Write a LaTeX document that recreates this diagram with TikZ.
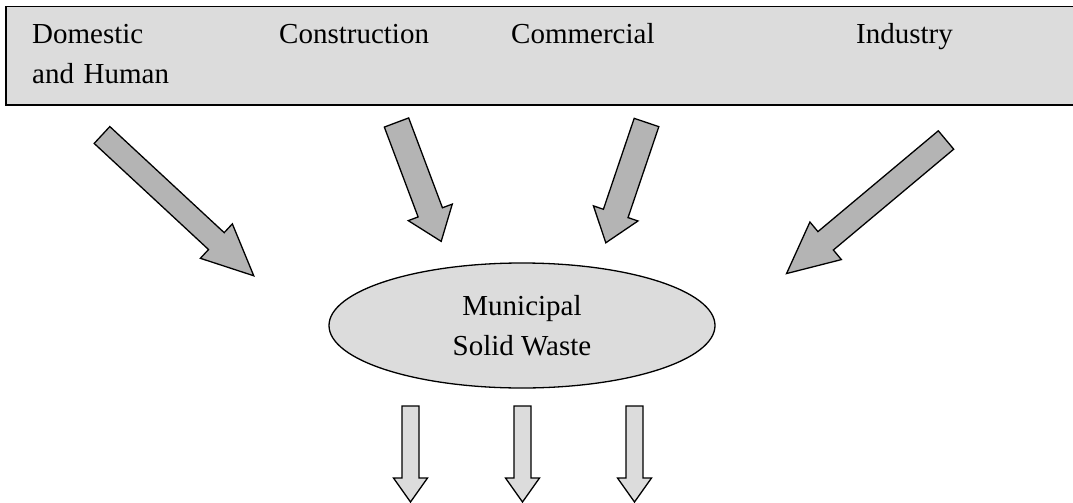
\documentclass[tikz,border=0pt]{standalone}
\usepackage{fontspec}
\setmainfont{Liberation Serif}
\usetikzlibrary{shapes.geometric}
\definecolor{panelgray}{RGB}{220,220,220}
\definecolor{flowgray}{RGB}{180,180,180}
\tikzset{
    x=1pt, y=-1pt, % one unit is one pixel of the reference, y downwards
    every node/.style={font=\fontsize{29}{40}\selectfont, inner sep=0pt},
    source/.style={anchor=base west, align=left}, % the labels in the top panel
    waste/.style={ellipse, draw, line width=1.3pt, fill=panelgray, minimum width=386, minimum height=125, align=center},
    pics/fatarrow/.style n args={4}{code={ % length, half shaft, half head, head length
        \draw[pic actions] (0,-#2) -- ({#1-#4},-#2) -- ({#1-#4},-#3) -- (#1,0)
            -- ({#1-#4},#3) -- ({#1-#4},#2) -- (0,#2) -- cycle;
    }},
    inflow/.style={line width=1.3pt, fill=flowgray},
    outflow/.style={line width=1.3pt, fill=panelgray},
}
\begin{document}
\begin{tikzpicture}
    \useasboundingbox (0,0) rectangle (1073,503);

    % top panel with the sources
    \node[draw, line width=1.5pt, fill=panelgray, anchor=north west, minimum width=1090, minimum height=98] (panel) at (5,6) {};
    \node[source, text width=150] (domestic) at (32,44) {Domestic\\and Human};
    \node[source] (construction) at (279,44) {Construction};
    \node[source] (commercial) at (511,44) {Commercial};
    \node[source] (industry) at (856,44) {Industry};

    \node[waste] (msw) at (522,325.5) {Municipal\\Solid Waste};

    % flows into the waste
    \coordinate (domtail) at (102,135);
    \coordinate (contail) at (396.5,122.5);
    \coordinate (comtail) at (646.5,122.5);
    \coordinate (indtail) at (946,140);
    \pic[inflow, rotate=-42.85] at (domtail) {fatarrow={207}{11.5}{23.5}{51}};
    \pic[inflow, rotate=-69.4] at (contail) {fatarrow={127}{13}{23.5}{31}};
    \pic[inflow, rotate=-108.7] at (comtail) {fatarrow={127}{13}{23.5}{31}};
    \pic[inflow, rotate=-140.05] at (indtail) {fatarrow={208}{12}{24.5}{51}};

    % flows out of it
    \foreach \x [count=\i] in {410.5,522.5,634.5} {
        \coordinate (out\i) at (\x,406);
        \pic[outflow, rotate=-90] at (out\i) {fatarrow={96}{8.5}{17}{24}};
    }
\end{tikzpicture}
\end{document}
